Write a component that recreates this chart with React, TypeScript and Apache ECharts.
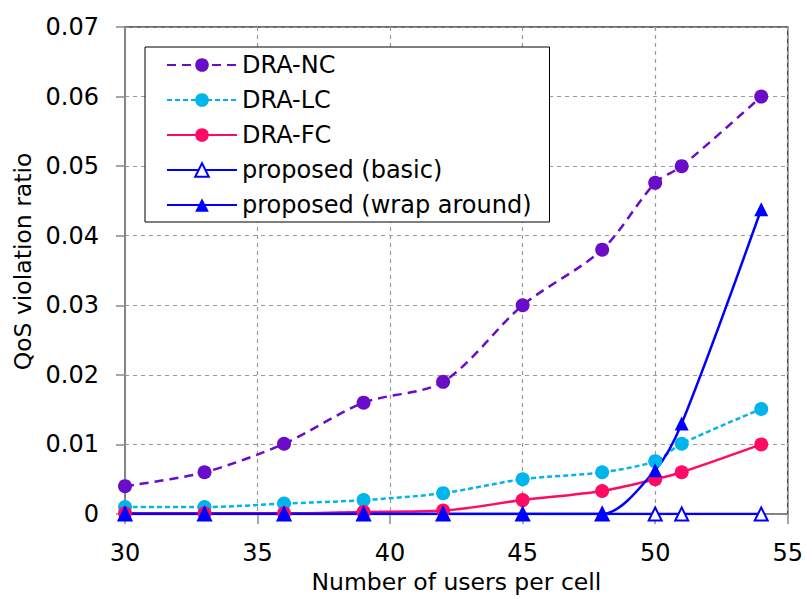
import React, { useEffect, useRef } from "react";
import * as echarts from "echarts";

const users = [30, 33, 36, 39, 42, 45, 48, 50, 51, 54];
const draNC = [0.004, 0.006, 0.0101, 0.016, 0.019, 0.030, 0.038, 0.0476, 0.050, 0.060];
const draLC = [0.001, 0.001, 0.0015, 0.002, 0.003, 0.005, 0.006, 0.0076, 0.0101, 0.0151];
const draFC = [0.0001, 0.0001, 0.0001, 0.0003, 0.0005, 0.002, 0.0033, 0.005, 0.006, 0.010];
const propBasic = [0, 0, 0, 0, 0, 0, 0, 0, 0, 0];
const propWrap = [0, 0, 0, 0, 0, 0, 0, 0.0063, 0.013, 0.0438];

const seriesNames = ["DRA-NC", "DRA-LC", "DRA-FC", "proposed (basic)", "proposed (wrap around)"];
const FONT = "DejaVu Sans";

const pair = (ys: number[]) => users.map((x, i) => [x, ys[i]]);

export default function App() {
  const ref = useRef<HTMLDivElement>(null);
  useEffect(() => {
    if (!ref.current) return;
    const chart = echarts.init(ref.current, undefined, { renderer: "svg" });
    const base = {
      type: "line",
      smooth: 0.3,
      symbolSize: 14,
    };
    chart.setOption({
      animation: false,
      backgroundColor: "#fff",
      textStyle: { fontFamily: FONT },
      grid: {
        left: 125,
        top: 27,
        right: 15,
        bottom: 83,
        show: true,
        borderColor: "#404040",
        borderWidth: 1.5,
        backgroundColor: "#fff",
      },
      legend: {
        orient: "vertical",
        left: 145,
        top: 47,
        width: 405,
        padding: [6, 18, 5, 21],
        itemWidth: 70,
        itemHeight: 17,
        itemGap: 11,
        borderColor: "#000",
        borderWidth: 1,
        backgroundColor: "#fff",
        textStyle: { fontFamily: FONT, fontSize: 24, color: "#000", lineHeight: 21 },
        data: seriesNames,
      },
      xAxis: {
        type: "value",
        min: 30,
        max: 55,
        interval: 5,
        name: "Number of users per cell",
        nameLocation: "middle",
        nameGap: 56,
        nameTextStyle: { fontFamily: FONT, fontSize: 23.5, color: "#000" },
        axisLine: { show: true, onZero: false, lineStyle: { color: "#888", width: 1.5 } },
        axisTick: { show: true, length: 10, lineStyle: { color: "#888", width: 1.5 } },
        axisLabel: { fontFamily: FONT, fontSize: 24, color: "#000", margin: 27 },
        splitLine: { show: true, lineStyle: { color: "#9a9a9a", type: [4, 4], width: 1.2 } },
      },
      yAxis: {
        type: "value",
        min: 0,
        max: 0.07,
        interval: 0.01,
        name: "QoS violation ratio",
        nameLocation: "middle",
        nameGap: 90,
        nameTextStyle: { fontFamily: FONT, fontSize: 23.5, color: "#000", padding: [0, 0, 0, 18] },
        axisLine: { show: true, lineStyle: { color: "#888", width: 1.5 } },
        axisTick: { show: true, length: 9, lineStyle: { color: "#888", width: 1.5 } },
        axisLabel: {
          fontFamily: FONT,
          fontSize: 24,
          color: "#000",
          margin: 26,
          formatter: (v: number) => (v === 0 ? "0" : v.toFixed(2)),
        },
        splitLine: { show: true, lineStyle: { color: "#9a9a9a", type: [4, 4], width: 1.2 } },
      },
      series: [
        {
          ...base,
          name: seriesNames[0],
          data: pair(draNC),
          symbol: "circle",
          itemStyle: { color: "#6A0DC8" },
          lineStyle: { color: "#6A0DC8", width: 2.5, type: [9, 6] },
        },
        {
          ...base,
          name: seriesNames[1],
          data: pair(draLC),
          symbol: "circle",
          itemStyle: { color: "#00B4EC" },
          lineStyle: { color: "#00B4EC", width: 2.5, type: [5, 3] },
        },
        {
          ...base,
          name: seriesNames[2],
          data: pair(draFC),
          symbol: "circle",
          itemStyle: { color: "#FF0A64" },
          lineStyle: { color: "#FF0A64", width: 2.5 },
        },
        {
          ...base,
          name: seriesNames[3],
          data: pair(propBasic),
          symbol: "triangle",
          symbolSize: 13,
          itemStyle: { color: "#fff", borderColor: "#0000FF", borderWidth: 2 },
          lineStyle: { color: "#0000FF", width: 2.5 },
        },
        {
          ...base,
          name: seriesNames[4],
          data: pair(propWrap),
          symbol: "triangle",
          symbolSize: 14,
          itemStyle: { color: "#0000FF" },
          lineStyle: { color: "#0000FF", width: 2.5 },
        },
      ],
    });
    return () => chart.dispose();
  }, []);
  return <div ref={ref} style={{ width: 806, height: 599, position: "absolute", left: 0, top: 0 }} />;
}
